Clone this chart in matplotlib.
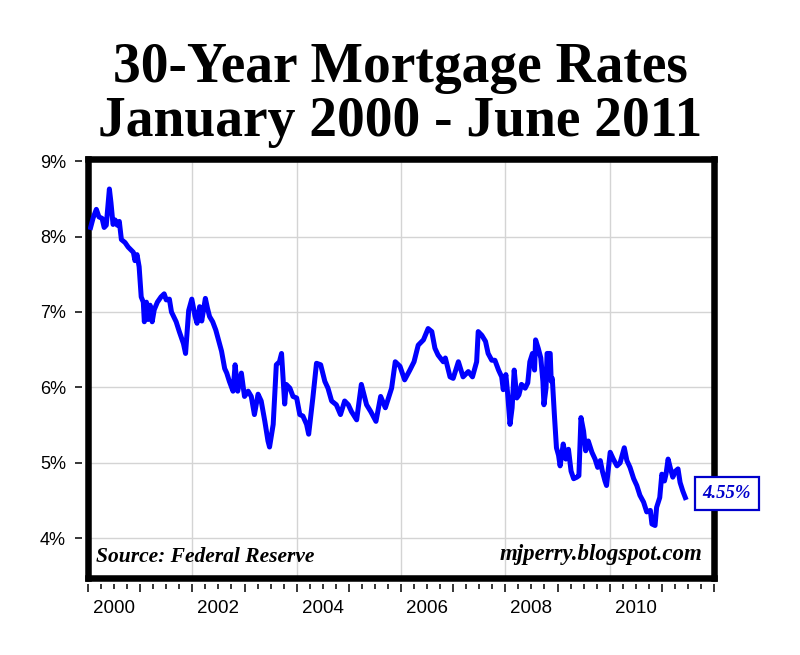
import matplotlib
matplotlib.use("Agg")
import matplotlib.pyplot as plt

# 30-year mortgage rate (decimal year, percent)
years = [
    2000.05, 2000.10, 2000.16, 2000.21, 2000.27, 2000.31, 2000.35, 2000.41, 2000.44, 2000.48,
    2000.52, 2000.56, 2000.60, 2000.64, 2000.71, 2000.77, 2000.87, 2000.90, 2000.94, 2000.98,
    2001.02, 2001.06, 2001.08, 2001.12, 2001.15, 2001.19, 2001.23, 2001.27, 2001.33, 2001.40,
    2001.46, 2001.50, 2001.56, 2001.60, 2001.69, 2001.75, 2001.83, 2001.87, 2001.93, 2001.99,
    2002.05, 2002.09, 2002.14, 2002.18, 2002.25, 2002.29, 2002.33, 2002.39, 2002.45, 2002.52,
    2002.56, 2002.62, 2002.66, 2002.71, 2002.78, 2002.82, 2002.87, 2002.94, 2003.00, 2003.07,
    2003.13, 2003.19, 2003.26, 2003.32, 2003.39, 2003.45, 2003.48, 2003.55, 2003.61, 2003.67,
    2003.71, 2003.77, 2003.80, 2003.87, 2003.93, 2004.00, 2004.06, 2004.12, 2004.19, 2004.23,
    2004.31, 2004.38, 2004.46, 2004.54, 2004.60, 2004.67, 2004.76, 2004.84, 2004.92, 2004.99,
    2005.05, 2005.15, 2005.24, 2005.34, 2005.42, 2005.52, 2005.61, 2005.70, 2005.82, 2005.89,
    2005.98, 2006.07, 2006.17, 2006.25, 2006.33, 2006.43, 2006.52, 2006.59, 2006.65, 2006.71,
    2006.81, 2006.85, 2006.94, 2007.00, 2007.10, 2007.19, 2007.29, 2007.37, 2007.45, 2007.48,
    2007.55, 2007.62, 2007.67, 2007.74, 2007.80, 2007.87, 2007.93, 2007.96, 2008.01, 2008.04,
    2008.09, 2008.13, 2008.17, 2008.22, 2008.26, 2008.31, 2008.38, 2008.43, 2008.47, 2008.52,
    2008.56, 2008.58, 2008.63, 2008.68, 2008.72, 2008.74, 2008.78, 2008.80, 2008.86, 2008.88,
    2008.90, 2008.94, 2008.98, 2009.02, 2009.05, 2009.11, 2009.16, 2009.21, 2009.26, 2009.31,
    2009.37, 2009.41, 2009.45, 2009.50, 2009.54, 2009.59, 2009.66, 2009.72, 2009.77, 2009.82,
    2009.86, 2009.91, 2009.94, 2010.01, 2010.07, 2010.14, 2010.20, 2010.28, 2010.33, 2010.39,
    2010.46, 2010.52, 2010.58, 2010.65, 2010.71, 2010.78, 2010.81, 2010.87, 2010.90, 2010.96,
    2011.00, 2011.05, 2011.08, 2011.12, 2011.16, 2011.21, 2011.26, 2011.31, 2011.35, 2011.40,
    2011.45,
]
rates = [
    8.12, 8.25, 8.36, 8.26, 8.24, 8.12, 8.15, 8.63, 8.45, 8.16,
    8.22, 8.15, 8.20, 7.96, 7.92, 7.86, 7.79, 7.68, 7.76, 7.60,
    7.20, 7.13, 6.87, 7.13, 6.90, 7.09, 6.87, 7.03, 7.13, 7.20,
    7.24, 7.16, 7.17, 7.00, 6.87, 6.74, 6.58, 6.45, 7.02, 7.17,
    6.95, 6.85, 7.07, 6.88, 7.18, 7.05, 6.94, 6.87, 6.76, 6.58,
    6.48, 6.25, 6.19, 6.08, 5.95, 6.30, 5.95, 6.19, 5.88, 5.95,
    5.88, 5.64, 5.91, 5.82, 5.55, 5.29, 5.21, 5.51, 6.30, 6.34,
    6.45, 5.78, 6.04, 5.99, 5.88, 5.86, 5.64, 5.62, 5.51, 5.38,
    5.86, 6.32, 6.30, 6.08, 5.99, 5.82, 5.77, 5.64, 5.82, 5.77,
    5.68, 5.57, 6.04, 5.77, 5.68, 5.55, 5.88, 5.73, 5.99, 6.34,
    6.28, 6.10, 6.23, 6.34, 6.56, 6.63, 6.78, 6.74, 6.52, 6.43,
    6.34, 6.39, 6.14, 6.12, 6.34, 6.14, 6.21, 6.14, 6.34, 6.74,
    6.69, 6.61, 6.45, 6.36, 6.36, 6.23, 6.14, 5.97, 6.17, 5.95,
    5.51, 5.73, 6.23, 5.86, 5.90, 6.04, 5.99, 6.06, 6.34, 6.45,
    6.23, 6.63, 6.52, 6.39, 6.08, 5.77, 5.99, 6.45, 6.45, 6.08,
    6.12, 5.64, 5.20, 5.10, 4.96, 5.25, 5.05, 5.18, 4.89, 4.79,
    4.81, 4.83, 5.60, 5.42, 5.16, 5.29, 5.14, 5.05, 4.94, 5.03,
    4.89, 4.76, 4.70, 5.14, 5.05, 4.96, 5.00, 5.20, 5.03, 4.94,
    4.79, 4.70, 4.57, 4.48, 4.35, 4.37, 4.19, 4.17, 4.41, 4.54,
    4.85, 4.76, 4.85, 5.05, 4.94, 4.81, 4.89, 4.92, 4.74, 4.63,
    4.54,
]

y_ticks = [4, 5, 6, 7, 8, 9]
y_labels = ["4%", "5%", "6%", "7%", "8%", "9%"]
grid_years = [2002, 2004, 2006, 2008, 2010]
label_years = [2000, 2002, 2004, 2006, 2008, 2010]
last_label = "4.55%"

W, H = 800, 655
L, R, T, B = 88, 714, 158.8, 578.3
XLIM = (2000, 2012)
YLIM = (3.47, 9.03)

fig = plt.figure(figsize=(W / 100, H / 100), dpi=100)
fig.patch.set_facecolor("white")

pos = [L / W, 1 - B / H, (R - L) / W, (B - T) / H]
ax = fig.add_axes(pos)
ax.plot(years, rates, color="#0000ff", lw=3.6, solid_joinstyle="round", zorder=3)
ax.set_xlim(*XLIM)
ax.set_ylim(*YLIM)
ax.set_xticks(grid_years)
ax.set_yticks(y_ticks)
ax.tick_params(length=0, labelbottom=False, labelleft=False)
ax.grid(color="#d4d4d4", lw=1.0, zorder=0)
for sp in ax.spines.values():
    sp.set_linewidth(4.7)
    sp.set_color("black")

serif = "Liberation Serif"
ax.text(0.013, 0.05, "Source: Federal Reserve", transform=ax.transAxes,
        family=serif, weight="bold", style="italic", fontsize=15.5,
        ha="left", va="center")
ax.text(0.982, 0.057, "mjperry.blogspot.com", transform=ax.transAxes,
        family=serif, weight="bold", style="italic", fontsize=16.5,
        ha="right", va="center")

ax.text(2012.25, rates[-1] + 0.05, last_label, color="#0000cc",
        family=serif, weight="bold", style="italic", fontsize=13.5,
        ha="center", va="center", clip_on=False, zorder=10,
        bbox=dict(boxstyle="square,pad=0.42", fc="white", ec="#0000cc", lw=1.6))

# y ticks sit a little left of the frame
yax = fig.add_axes([82 / W, pos[1], 0.001, pos[3]])
yax.set_ylim(*YLIM)
yax.set_yticks(y_ticks, y_labels)
yax.set_xticks([])
yax.tick_params(axis="y", direction="out", length=5, width=1.1, pad=6.5,
                labelsize=13)
for lab in yax.get_yticklabels():
    lab.set_family("Liberation Sans")
for sp in yax.spines.values():
    sp.set_visible(False)
yax.patch.set_alpha(0)

# x ticks below the frame: years long, quarters short
xax = fig.add_axes([pos[0], 1 - 584 / H, pos[2], 0.001])
xax.set_xlim(*XLIM)
xax.set_xticks(range(2000, 2013))
xax.set_xticks([y + q / 4 for y in range(2000, 2012) for q in range(1, 4)], minor=True)
xax.tick_params(axis="x", which="major", direction="out", length=5.5, width=1.1,
                labelbottom=False)
xax.tick_params(axis="x", which="minor", direction="out", length=3.5, width=1.1)
xax.set_yticks([])
for sp in xax.spines.values():
    sp.set_visible(False)
xax.patch.set_alpha(0)

sec = xax.secondary_xaxis("bottom")
sec.set_xticks([y + 0.5 for y in label_years], [str(y) for y in label_years])
sec.tick_params(length=0, pad=11.5, labelsize=13.5)
for lab in sec.get_xticklabels():
    lab.set_family("Liberation Sans")
sec.spines["bottom"].set_visible(False)

fig.text(0.5, 1 - 82 / H, "30-Year Mortgage Rates", family=serif, weight="bold",
         fontsize=40, ha="center", va="baseline")
fig.text(0.5, 1 - 136 / H, "January 2000 - June 2011", family=serif, weight="bold",
         fontsize=40, ha="center", va="baseline")

fig.savefig("out.png", dpi=100)
